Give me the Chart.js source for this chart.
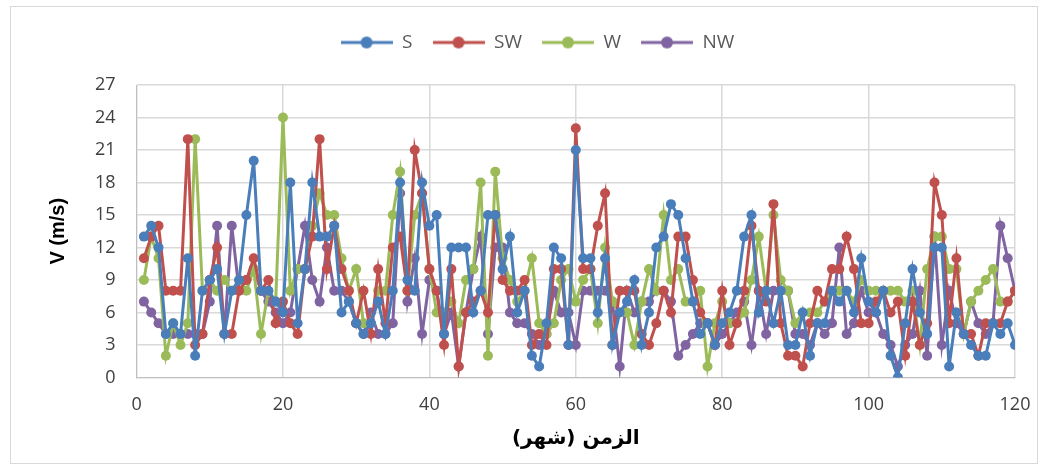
<html>
    <head>
        <meta http-equiv="Content-Type" content="text/html; charset=utf-8"/>
        <title> Velocidad del viento </title>
        <script src="https://cdn.jsdelivr.net/npm/chart.js@4.4.1/dist/chart.umd.min.js"></script>
        <style>
            body { margin: 0; background: #ffffff; }
            .caja { position: absolute; left: 10px; top: 6px; width: 1028px; height: 458px; border: 1px solid #d9d9d9; box-sizing: border-box; }
        </style>
    </head>
    <body>
        <div class="caja">
            <canvas id="grafica"></canvas>
        </div>

        <script>
            // meses 1..120
            var meses = []
            for (var i = 1; i <= 120; i++) meses.push(i)

            var etiquetasY = [0, 3, 6, 9, 12, 15, 18, 21, 24, 27]
            var etiquetasX = [0, 20, 40, 60, 80, 100, 120]

            var valoresS = [13,14,12,4,5,4,11,2,8,9, 10,4,8,9,15,20,8,8,7,6, 18,5,10,18,13,13,14,6,7,5,
                            4,5,7,4,8,18,9,8,18,14, 15,4,12,12,12,6,8,15,15,10, 13,6,8,2,1,5,12,11,3,21,
                            11,11,6,11,3,6,7,9,3,6, 12,13,16,15,11,7,4,5,3,5, 6,8,13,15,6,8,5,8,3,3,
                            6,2,5,5,8,7,8,6,11,7, 6,8,2,0,5,10,6,4,12,12, 1,6,4,3,2,2,5,4,5,3]

            var valoresSW = [11,13,14,8,8,8,22,3,4,9, 12,4,4,8,9,11,8,9,5,7, 5,4,10,13,22,10,14,10,8,5,
                             8,4,10,5,12,13,8,21,17,10, 8,3,10,1,6,7,8,6,15,9, 8,8,9,3,4,3,10,10,3,23,
                             10,10,14,17,3,8,8,8,4,3, 5,8,6,13,13,9,6,5,3,8, 3,5,8,14,8,7,16,5,2,2,
                             1,5,8,7,10,10,13,10,5,5, 7,8,6,7,2,7,3,5,18,15, 5,11,4,4,2,5,5,5,7,8]

            var valoresW = [9,13,11,2,5,3,5,22,8,9, 8,9,8,9,8,10,4,8,7,24, 8,10,10,14,17,15,15,11,8,10,
                            5,5,8,8,15,19,8,15,17,10, 6,6,7,5,9,10,18,2,19,11, 9,7,8,11,5,4,5,9,10,7,
                            9,10,5,12,7,6,6,3,7,10, 8,15,9,10,7,7,8,1,5,7, 5,5,6,9,13,8,15,9,8,5,
                            6,6,6,7,8,8,8,7,9,8, 8,8,8,8,7,8,3,10,13,13, 10,10,4,7,8,9,10,7,7,8]

            var valoresNW = [7,6,5,4,4,4,4,4,4,7, 14,4,14,8,9,10,8,7,6,5, 6,10,14,9,7,12,8,8,7,5,
                             4,6,4,4,5,17,7,11,4,9, 8,4,6,1,6,10,13,4,12,12, 6,5,5,4,3,4,8,6,6,3,
                             8,8,8,8,7,1,8,6,7,7, 8,8,7,2,3,4,5,5,3,4, 5,6,7,3,8,4,8,8,8,4,
                             4,3,5,4,5,12,4,5,8,6, 6,4,3,1,3,4,8,2,13,3, 8,5,4,7,5,4,5,14,11,8]

            var series = [
                { nombre: 'S',  valores: valoresS,  color: '#4a7ebb' },
                { nombre: 'SW', valores: valoresSW, color: '#c0504d' },
                { nombre: 'W',  valores: valoresW,  color: '#9bbb59' },
                { nombre: 'NW', valores: valoresNW, color: '#8064a2' }
            ]

            // icono de leyenda: linea con circulo
            var icono = (color) => {
                var c = document.createElement('canvas')
                c.width = 52
                c.height = 14
                var ctx = c.getContext('2d')
                ctx.strokeStyle = color
                ctx.lineWidth = 3
                ctx.beginPath()
                ctx.moveTo(0, 7)
                ctx.lineTo(52, 7)
                ctx.stroke()
                ctx.fillStyle = color
                ctx.beginPath()
                ctx.arc(26, 7, 6, 0, Math.PI * 2)
                ctx.fill()
                return c
            }

            var datasets = series.map((s) => {
                return {
                    label: s.nombre,
                    data: meses.map((m, k) => ({ x: m, y: s.valores[k] })),
                    borderColor: s.color,
                    backgroundColor: s.color,
                    borderWidth: 3,
                    pointRadius: 5,
                    pointHoverRadius: 5,
                    pointBorderWidth: 0,
                    tension: 0,
                    icono: icono(s.color)
                }
            })

            var fuente = "'Open Sans', 'Liberation Sans', sans-serif"

            // mas espacio debajo de la leyenda
            var espacioLeyenda = {
                id: 'espacioLeyenda',
                beforeInit: (chart) => {
                    var fitOrig = chart.legend.fit
                    chart.legend.fit = function () {
                        fitOrig.bind(chart.legend)()
                        this.height += 23
                    }
                }
            }

            var contenedor = document.getElementById("grafica")
            var grafica = new Chart(contenedor, {
                type: 'line',
                data: { datasets: datasets },
                plugins: [espacioLeyenda],
                options: {
                    responsive: true,
                    maintainAspectRatio: false,
                    animation: false,
                    layout: { padding: { left: 31, right: 4, top: 6, bottom: 6 } },
                    plugins: {
                        tooltip: { enabled: false },
                        legend: {
                            position: 'top',
                            labels: {
                                usePointStyle: true,
                                pointStyleWidth: 52,
                                padding: 20,
                                color: '#595959',
                                font: { family: fuente, size: 19 },
                                generateLabels: (chart) => {
                                    var items = Chart.defaults.plugins.legend.labels.generateLabels(chart)
                                    items.forEach((it) => {
                                        it.pointStyle = chart.data.datasets[it.datasetIndex].icono
                                    })
                                    return items
                                }
                            }
                        }
                    },
                    scales: {
                        x: {
                            type: 'linear',
                            min: 0,
                            max: 120,
                            afterBuildTicks: (axis) => { axis.ticks = etiquetasX.map((v) => ({ value: v })) },
                            afterFit: (axis) => { axis.paddingRight = 22 },
                            grid: { color: '#d9d9d9', lineWidth: 1.5, drawTicks: true, tickLength: 14, tickColor: 'rgba(0,0,0,0)' },
                            border: { color: '#bfbfbf' },
                            ticks: { color: '#404040', padding: 3, font: { family: fuente, size: 18 } },
                            title: {
                                display: true,
                                text: 'الزمن (شهر)',
                                color: '#000000',
                                padding: { top: 8, bottom: 6 },
                                font: { family: "'DejaVu Sans', sans-serif", size: 20, weight: 'bold' }
                            }
                        },
                        y: {
                            min: 0,
                            max: 27,
                            afterBuildTicks: (axis) => { axis.ticks = etiquetasY.map((v) => ({ value: v })) },
                            grid: { color: '#d9d9d9', lineWidth: 1.5, drawTicks: false },
                            border: { color: '#bfbfbf' },
                            ticks: { color: '#404040', padding: 21, font: { family: fuente, size: 18 } },
                            title: {
                                display: true,
                                text: 'V (m/s)',
                                color: '#000000',
                                font: { family: "'Liberation Sans', sans-serif", size: 20, weight: 'bold' }
                            }
                        }
                    }
                }
            })
        </script>
    </body>
</html>
